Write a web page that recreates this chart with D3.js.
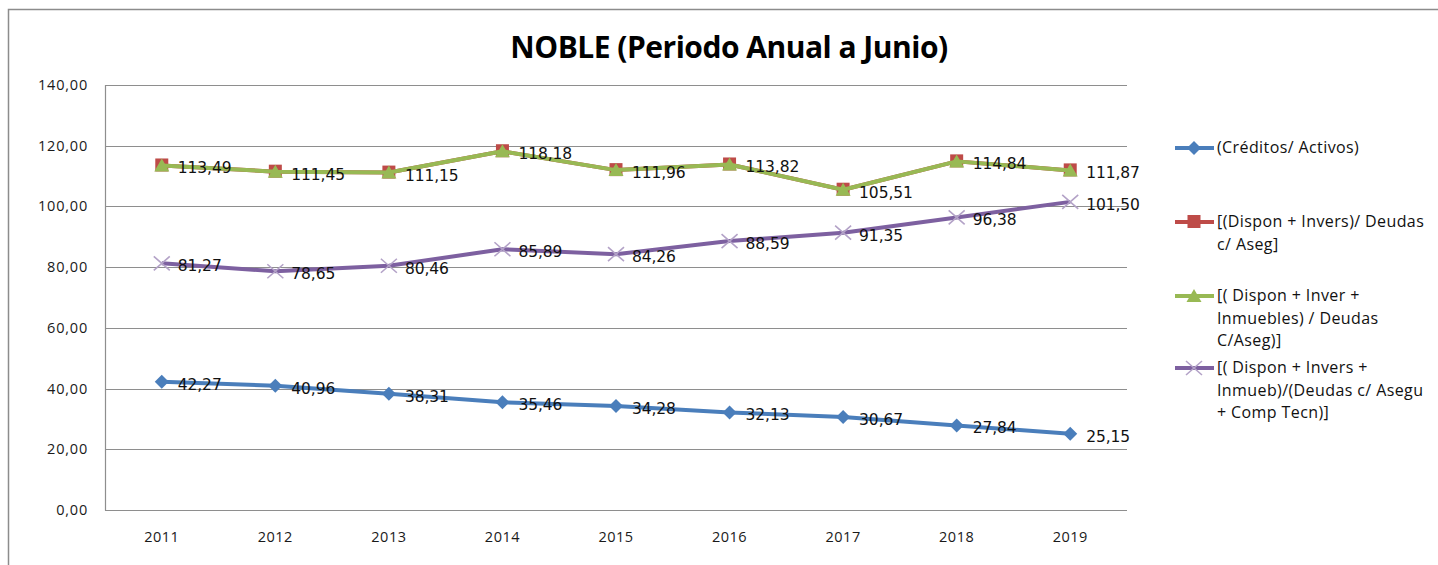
<!DOCTYPE html>
<html><head><meta charset="utf-8">
<script src="https://cdn.jsdelivr.net/npm/d3@7"></script>
<style>body{margin:0;background:#fff;} svg{display:block;}</style>
</head><body>
<script>
const years = ["2011","2012","2013","2014","2015","2016","2017","2018","2019"];
const creditosActivos = [42.27,40.96,38.31,35.46,34.28,32.13,30.67,27.84,25.15];
const disponInvers = [113.49,111.45,111.15,118.18,111.96,113.82,105.51,114.84,111.87];
const disponInverInmuebles = [113.49,111.45,111.15,118.18,111.96,113.82,105.51,114.84,111.87];
const disponInversInmuebComp = [81.27,78.65,80.46,85.89,84.26,88.59,91.35,96.38,101.50];
const yTicks = [0,20,40,60,80,100,120,140];
const title = "NOBLE (Periodo Anual a Junio)";
const legendLabels = [
  ["(Créditos/ Activos)"],
  ["[(Dispon + Invers)/ Deudas","c/ Aseg]"],
  ["[( Dispon + Inver +","Inmuebles) / Deudas","C/Aseg)]"],
  ["[( Dispon + Invers +","Inmueb)/(Deudas c/ Asegu","+ Comp Tecn)]"]
];

const W=1438,H=565;
const svg=d3.select("body").append("svg").attr("width",W).attr("height",H);
svg.append("rect").attr("width",W).attr("height",H).attr("fill","#fff");
// outer frame
svg.append("path").attr("d","M8.5,565 L8.5,9.5 L1438,9.5").attr("fill","none").attr("stroke","#8c8c8c").attr("stroke-width",1.5);

const x=d3.scalePoint().domain(years).range([105,1127]).padding(0.5);
const y=d3.scaleLinear().domain([0,140]).range([510,85]);

// gridlines
svg.append("g").selectAll("line").data(yTicks).join("line")
  .attr("x1",105).attr("x2",1127).attr("y1",d=>Math.round(y(d))+0.5).attr("y2",d=>Math.round(y(d))+0.5)
  .attr("stroke","#8e8e8e").attr("stroke-width",1.2);
svg.append("line").attr("x1",105.5).attr("x2",105.5).attr("y1",y(140)).attr("y2",y(0)+0.5).attr("stroke","#8e8e8e").attr("stroke-width",1.2);

const fmt=v=>v.toFixed(2).replace(".",",");
// y labels
svg.append("g").selectAll("text").data(yTicks).join("text")
  .attr("x",88).attr("y",d=>y(d)+5).attr("text-anchor","end")
  .attr("font-family","Open Sans").attr("font-size",14.5).attr("letter-spacing",0.8).attr("fill","#1a1a1a")
  .text(d=>fmt(d));
// x labels
svg.append("g").selectAll("text").data(years).join("text")
  .attr("x",d=>x(d)).attr("y",542).attr("text-anchor","middle")
  .attr("font-family","Open Sans").attr("font-size",14.5).attr("letter-spacing",0.5).attr("fill","#1a1a1a")
  .text(d=>d);

// title
svg.append("text").attr("x",729).attr("y",58).attr("text-anchor","middle")
  .attr("font-family","Open Sans").attr("font-weight","bold").attr("font-size",30).attr("fill","#000")
  .attr("letter-spacing",-0.5).text(title);

const series=[
  {vals:creditosActivos,color:"#4a7ebb",marker:"diamond"},
  {vals:disponInvers,color:"#be4b48",marker:"square"},
  {vals:disponInverInmuebles,color:"#98b954",marker:"triangle"},
  {vals:disponInversInmuebComp,color:"#7d60a0",marker:"x"}
];
const line=d3.line().x((d,i)=>x(years[i])).y(d=>y(d));

function drawMarker(g,type,cx,cy,color){
  if(type==="diamond"){
    g.append("path").attr("d",`M${cx},${cy-7} L${cx+7},${cy} L${cx},${cy+7} L${cx-7},${cy} Z`).attr("fill",color);
  } else if(type==="square"){
    g.append("rect").attr("x",cx-6.5).attr("y",cy-7).attr("width",13).attr("height",13).attr("fill",color);
  } else if(type==="triangle"){
    g.append("path").attr("d",`M${cx},${cy-7} L${cx+7.5},${cy+6} L${cx-7.5},${cy+6} Z`).attr("fill",color);
  } else {
    g.append("path").attr("d",`M${cx-8},${cy-7} L${cx+8},${cy+7} M${cx-8},${cy+7} L${cx+8},${cy-7}`)
      .attr("stroke","#b3a2c7").attr("stroke-width",1.6).attr("fill","none");
  }
}

series.forEach(s=>{
  const g=svg.append("g");
  g.append("path").datum(s.vals).attr("d",line).attr("fill","none").attr("stroke",s.color)
    .attr("stroke-width",4).attr("stroke-linejoin","round");
  s.vals.forEach((v,i)=>drawMarker(g,s.marker,x(years[i]),y(v),s.color));
});

// data labels
[series[0],series[2],series[3]].forEach(s=>{
  svg.append("g").selectAll("text").data(s.vals).join("text")
    .attr("x",(d,i)=>x(years[i])+16).attr("y",d=>y(d)+8)
    .attr("font-family","DejaVu Sans").attr("font-size",15.5).attr("fill","#111")
    .attr("letter-spacing",-0.1)
    .text(d=>fmt(d));
});

// legend
const legY=[148,222,296,368];
const lg=svg.append("g");
series.forEach((s,k)=>{
  const ly=legY[k];
  lg.append("line").attr("x1",1175).attr("x2",1214).attr("y1",ly).attr("y2",ly).attr("stroke",s.color).attr("stroke-width",4);
  drawMarker(lg,s.marker,1194,ly,s.color);
  legendLabels[k].forEach((t,j)=>{
    lg.append("text").attr("x",1217).attr("y",ly+5+j*22.5)
      .attr("font-family","Open Sans").attr("font-size",16).attr("letter-spacing",0.4).attr("fill","#111").text(t);
  });
});
</script>
</body></html>
